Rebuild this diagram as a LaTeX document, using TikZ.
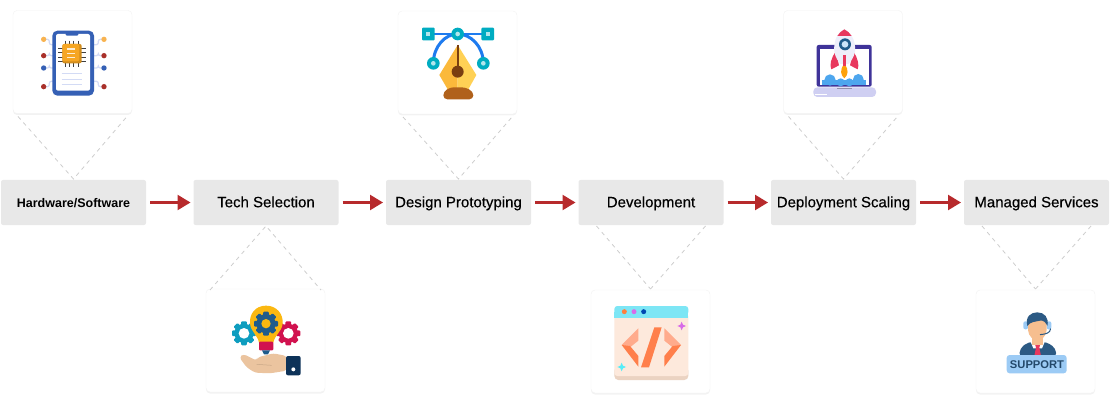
\documentclass[tikz,border=0pt]{standalone}
\usepackage{fontspec}
\setmainfont{Liberation Sans}
\usepackage{tikz}
\usetikzlibrary{arrows.meta}
\usetikzlibrary{shadows}

\definecolor{boxgray}{HTML}{E8E8E8}
\definecolor{arrowred}{HTML}{B72A2C}
\definecolor{linkgray}{HTML}{CDCDCD}
\definecolor{phoneblue}{HTML}{3560B5}
\definecolor{chiporange}{HTML}{F6A623}
\definecolor{paleblue}{HTML}{D3DBF5}
\definecolor{dotred}{HTML}{A9302A}
\definecolor{dotyellow}{HTML}{F8B350}
\definecolor{bulbyellow}{HTML}{FBB811}
\definecolor{gearnavy}{HTML}{1F5C8C}
\definecolor{gearteal}{HTML}{0E9DBF}
\definecolor{gearred}{HTML}{D1124F}
\definecolor{handpeach}{HTML}{EBC49F}
\definecolor{cuffnavy}{HTML}{0D3258}
\definecolor{curveblue}{HTML}{1E7BEF}
\definecolor{pointteal}{HTML}{00ACC1}
\definecolor{nibdark}{HTML}{FBB93B}
\definecolor{niblight}{HTML}{FFD155}
\definecolor{nibbrown}{HTML}{7A3E10}
\definecolor{nibbase}{HTML}{B0611B}
\definecolor{skincream}{HTML}{FDE9DC}
\definecolor{skinedge}{HTML}{EBD3C2}
\definecolor{windowcyan}{HTML}{7DE6F5}
\definecolor{codedark}{HTML}{FF7F4B}
\definecolor{codelight}{HTML}{FFAB8C}
\definecolor{sparkpink}{HTML}{D86BE8}
\definecolor{laptopnavy}{HTML}{3F3399}
\definecolor{laptoplilac}{HTML}{CFCFF2}
\definecolor{cloudblue}{HTML}{4DA6EE}
\definecolor{rocketred}{HTML}{E8385E}
\definecolor{rocketbody}{HTML}{EEEEFA}
\definecolor{agentnavy}{HTML}{2C5A84}
\definecolor{agentskin}{HTML}{F6BE8F}
\definecolor{bannerblue}{HTML}{9CCBF5}

\tikzset{
    stagebox/.style={fill=boxgray, rounded corners=2pt, minimum width=145pt, minimum height=45pt, inner sep=0pt, outer sep=0pt, text height=11.5pt, text depth=2pt, font=\fontsize{15}{17}\selectfont\addfontfeature{FakeBold=0.35}},
    iconcard/.style={fill=white, draw=black!5, rounded corners=4pt, minimum width=119pt, minimum height=103pt, inner sep=0pt, outer sep=0pt, drop shadow={shadow xshift=0pt, shadow yshift=-1.5pt, opacity=0.1}},
    steparrow/.style={draw=arrowred, line width=2.4pt, -{Triangle[length=13pt,width=15pt]}, shorten <=4pt, shorten >=3pt},
    linkline/.style={draw=linkgray, line width=0.8pt, dash pattern=on 4pt off 4pt}
}

% gear: x, y, outer radius, hole radius, colour, hole colour
\newcommand{\gearwheel}[6]{
    \begin{scope}[shift={(#1,#2)}]
        \foreach \a in {0,45,...,315}
            \fill[#5, rotate=\a, rounded corners=1pt] (-0.24*#3,0) rectangle (0.24*#3,#3);
        \fill[#5] (0,0) circle ({0.8*#3});
        \fill[#6] (0,0) circle (#4);
    \end{scope}
}
% four pointed spark
\newcommand{\sparkmark}[4]{
    \fill[#4] (#1,#2-#3) -- (#1+0.3*#3,#2-0.3*#3) -- (#1+#3,#2) -- (#1+0.3*#3,#2+0.3*#3) -- (#1,#2+#3) -- (#1-0.3*#3,#2+0.3*#3) -- (#1-#3,#2) -- (#1-0.3*#3,#2-0.3*#3) -- cycle;
}

\begin{document}
\begin{tikzpicture}[x=1pt, y=-1pt]

    \useasboundingbox (0,0) rectangle (1110,406);

    % Stage boxes
    \node[stagebox, font=\fontsize{12.5}{15}\selectfont\bfseries] (hardware) at (73.5,202.5) {Hardware/Software};
    \node[stagebox] (tech) at (266,202.5) {Tech Selection};
    \node[stagebox] (design) at (458.5,202.5) {Design Prototyping};
    \node[stagebox] (develop) at (651,202.5) {Development};
    \node[stagebox] (deploy) at (843.5,202.5) {Deployment Scaling};
    \node[stagebox] (managed) at (1036.5,202.5) {Managed Services};

    % Icon cards
    \node[iconcard] (cardhardware) at (72.5,62) {};
    \node[iconcard] (cardtech) at (265.5,340.5) {};
    \node[iconcard] (carddesign) at (457.5,62.5) {};
    \node[iconcard] (carddevelop) at (650.5,341.5) {};
    \node[iconcard] (carddeploy) at (843,62) {};
    \node[iconcard] (cardmanaged) at (1035.5,341.5) {};

    % Arrows
    \draw[steparrow] (hardware) -- (tech);
    \draw[steparrow] (tech) -- (design);
    \draw[steparrow] (design) -- (develop);
    \draw[steparrow] (develop) -- (deploy);
    \draw[steparrow] (deploy) -- (managed);

    % Dashed links
    \draw[linkline] ([xshift=5pt,yshift=-3pt]cardhardware.south west) -- ([yshift=1pt]hardware.north) -- ([xshift=-5pt,yshift=-3pt]cardhardware.south east);
    \draw[linkline] ([xshift=5pt,yshift=-3pt]carddesign.south west) -- ([yshift=1pt]design.north) -- ([xshift=-5pt,yshift=-3pt]carddesign.south east);
    \draw[linkline] ([xshift=5pt,yshift=-3pt]carddeploy.south west) -- ([yshift=1pt]deploy.north) -- ([xshift=-5pt,yshift=-3pt]carddeploy.south east);
    \draw[linkline] ([xshift=4pt,yshift=-1pt]cardtech.north west) -- ([yshift=-1pt]tech.south) -- ([xshift=-4pt,yshift=-1pt]cardtech.north east);
    \draw[linkline] ([yshift=-1pt]develop.south west) ++(18pt,0pt) -- ([yshift=1pt]carddevelop.north);
    \draw[linkline] ([yshift=-1pt]develop.south east) ++(-18pt,0pt) -- ([yshift=1pt]carddevelop.north);
    \draw[linkline] ([yshift=-1pt]managed.south west) ++(18pt,0pt) -- ([yshift=1pt]cardmanaged.north);
    \draw[linkline] ([yshift=-1pt]managed.south east) ++(-18pt,0pt) -- ([yshift=1pt]cardmanaged.north);

    % Phone with chip
    \begin{scope}[scale=1/3]
        \foreach \y/\c/\k in {118/dotyellow/1, 167/dotred/0, 204/phoneblue/0, 260/dotred/-1} {
            \draw[paleblue, line width=1.2pt, rounded corners=2pt] (131,\y) -- (148,\y) -- (148,\y+\k*16) -- (162,\y+\k*16);
            \draw[paleblue, line width=1.2pt, rounded corners=2pt] (312,\y) -- (295,\y) -- (295,\y+\k*16) -- (278,\y+\k*16);
            \fill[\c] (131,\y) circle (8);
            \fill[\c] (312,\y) circle (8);
        }
        \fill[phoneblue, rounded corners=5pt] (157,92) rectangle (282,287);
        \fill[white, rounded corners=2pt] (168,102) rectangle (270,272);
        \fill[phoneblue, rounded corners=1pt] (197,98) rectangle (235,107);
        \foreach \p in {195,208,221,234} {
            \draw[black!75, line width=0.9pt] (\p,122) -- (\p,202);
        }
        \foreach \p in {145,158,171,184} {
            \draw[black!75, line width=0.9pt] (175,\p) -- (258,\p);
        }
        \fill[chiporange!85!black, rounded corners=2pt] (187,132) rectangle (245,190);
        \fill[chiporange, rounded corners=2pt] (187,132) rectangle (238,184);
        \foreach \p in {147,160,173} {
            \draw[white!80!chiporange, line width=1.2pt] (202,\p) -- (225,\p);
        }
        \foreach \p in {222,240,255} {
            \draw[paleblue, line width=1pt] (185,\p) -- (245,\p);
        }
    \end{scope}

    % Bulb, gears and hand
    \begin{scope}[shift={(190,220)}, scale=1/3]
        \gearwheel{162}{340}{36}{16}{gearteal}{white}
        \gearwheel{295}{340}{36}{16}{gearred}{white}
        \fill[bulbyellow] (228,257) .. controls (195,257) and (178,283) .. (180,310) .. controls (182,335) and (203,345) .. (207,368) -- (250,368) .. controls (254,345) and (276,335) .. (278,310) .. controls (280,283) and (261,257) .. (228,257) -- cycle;
        \fill[gearred, rounded corners=1pt] (207,365) rectangle (250,391);
        \fill[gearnavy] (216,391) -- (240,391) -- (234,403) -- (222,403) -- cycle;
        \gearwheel{228}{311}{36}{14}{gearnavy}{bulbyellow}
        \fill[handpeach, rounded corners=3pt] (148,412) -- (160,402) -- (200,422) -- (203,412) -- (250,400) -- (290,408) -- (290,452) -- (240,460) -- (195,458) -- (170,442) -- cycle;
        \draw[black!15!handpeach, line width=0.5pt] (200,433) -- (245,436);
        \fill[cuffnavy, rounded corners=2pt] (288,408) rectangle (332,466);
        \fill[white] (310,448) circle (6);
    \end{scope}

    % Pen tool
    \begin{scope}[shift={(385,0)}, scale=1/3]
        \draw[curveblue, line width=1.8pt] (130,102) -- (308,102);
        \draw[curveblue, line width=3pt] (145,190) .. controls (145,140) and (180,102) .. (218,102) .. controls (258,102) and (295,140) .. (295,190);
        \fill[nibdark] (218,135) -- (163,225) -- (188,268) -- (218,268) -- cycle;
        \fill[niblight] (218,135) -- (274,225) -- (250,268) -- (218,268) -- cycle;
        \draw[nibbrown, line width=2pt] (218,135) -- (218,215);
        \fill[nibbrown] (218,215) circle (18);
        \fill[nibbase, rounded corners=4pt] (175,298) .. controls (175,270) and (195,262) .. (218,262) .. controls (242,262) and (265,270) .. (265,298) -- cycle;
        \foreach \x/\y in {218/102, 145/190, 295/190} {
            \fill[pointteal] (\x,\y) circle (19);
            \fill[white!70!pointteal] (\x,\y) circle (7);
        }
        \foreach \x in {130,308} {
            \fill[pointteal, rounded corners=1pt] (\x-19,83) rectangle (\x+19,121);
            \fill[white!70!pointteal] (\x-6,96) rectangle (\x+6,108);
        }
    \end{scope}

    % Code window
    \begin{scope}[shift={(575,220)}, scale=1/3]
        \fill[skinedge, rounded corners=4pt] (118,440) rectangle (340,480);
        \fill[skincream, rounded corners=3pt] (118,280) rectangle (340,468);
        \fill[windowcyan, rounded corners=3pt] (118,258) rectangle (340,285);
        \fill[windowcyan] (118,275) rectangle (340,295);
        \fill[codedark!80!orange] (148,275) circle (7.5);
        \fill[sparkpink] (177,275) circle (7.5);
        \fill[blue!60!cyan!70!black] (206,275) circle (7.5);
        \fill[codelight] (190,325) -- (190,362) -- (165,382) -- (140,375) -- cycle;
        \fill[codedark] (140,375) -- (165,378) -- (190,408) -- (190,440) -- cycle;
        \fill[codelight] (268,325) -- (268,362) -- (293,382) -- (318,375) -- cycle;
        \fill[codedark] (318,375) -- (293,378) -- (268,408) -- (268,440) -- cycle;
        \fill[codedark] (238,322) -- (260,322) -- (222,442) -- (198,442) -- cycle;
        \sparkmark{320}{318}{13}{sparkpink}
        \sparkmark{140}{441}{13}{windowcyan!70!cyan}
    \end{scope}

    % Rocket on laptop
    \begin{scope}[shift={(770,0)}, scale=1/3]
        \fill[laptopnavy, rounded corners=2pt] (140,135) rectangle (305,260);
        \fill[white] (150,146) rectangle (296,254);
        \fill[cloudblue] (180,240) circle (17);
        \fill[cloudblue] (212,247) circle (12);
        \fill[cloudblue] (238,247) circle (12);
        \fill[cloudblue] (265,238) circle (16);
        \fill[cloudblue] (156,240) rectangle (288,254);
        \fill[laptoplilac, rounded corners=4pt] (130,262) rectangle (318,291);
        \fill[laptoplilac!70!black] (202,265) rectangle (245,268);
        \fill[white] (135,282) rectangle (172,284);
        \fill[bulbyellow!60!orange] (223,192) .. controls (208,210) and (212,225) .. (223,235) .. controls (234,225) and (238,210) .. (223,192) -- cycle;
        \fill[rocketred] (197,155) .. controls (183,175) and (178,195) .. (184,208) -- (207,196) -- cycle;
        \fill[rocketred] (250,155) .. controls (264,175) and (268,195) .. (263,208) -- (240,196) -- cycle;
        \fill[rocketbody] (223,88) .. controls (200,100) and (190,125) .. (193,155) .. controls (196,172) and (205,185) .. (212,192) -- (235,192) .. controls (242,185) and (252,172) .. (255,155) .. controls (258,125) and (246,100) .. (223,88) -- cycle;
        \fill[rocketred] (223,88) .. controls (214,92) and (207,100) .. (202,108) -- (245,108) .. controls (240,100) and (232,92) .. (223,88) -- cycle;
        \fill[gearnavy] (225,133) circle (18);
        \fill[white!70!cloudblue] (225,133) circle (10);
        \fill[rocketred] (218,165) rectangle (228,197);
    \end{scope}

    % Support agent
    \begin{scope}[shift={(960,220)}, scale=1/3]
        \fill[agentnavy, rounded corners=4pt] (178,412) -- (180,385) -- (205,366) -- (260,366) -- (287,385) -- (289,412) -- cycle;
        \fill[white] (212,366) -- (254,366) -- (246,385) -- (220,385) -- cycle;
        \fill[rocketred] (225,372) -- (241,372) -- (238,383) -- (243,408) -- (223,408) -- (228,383) -- cycle;
        \fill[agentskin] (216,345) rectangle (250,376);
        \fill[bannerblue, rounded corners=2pt] (190,304) rectangle (204,328);
        \fill[bannerblue, rounded corners=2pt] (260,304) rectangle (274,328);
        \fill[agentskin] (204,300) -- (260,300) -- (260,330) .. controls (258,350) and (245,360) .. (232,360) .. controls (219,360) and (206,350) .. (204,330) -- cycle;
        \fill[agentnavy] (202,318) .. controls (195,290) and (212,277) .. (232,277) .. controls (252,277) and (268,292) .. (262,318) .. controls (258,308) and (250,300) .. (240,302) .. controls (225,306) and (212,304) .. (202,318) -- cycle;
        \draw[agentnavy, line width=1pt] (272,326) .. controls (270,340) and (258,342) .. (240,344);
        \fill[bannerblue, rounded corners=3pt] (140,405) rectangle (320,460);
        \node[font=\fontsize{11.2}{12}\selectfont\bfseries, text=agentnavy!80!black, inner sep=0pt] (supporttext) at (231,434) {SUPPORT};
    \end{scope}

\end{tikzpicture}
\end{document}
